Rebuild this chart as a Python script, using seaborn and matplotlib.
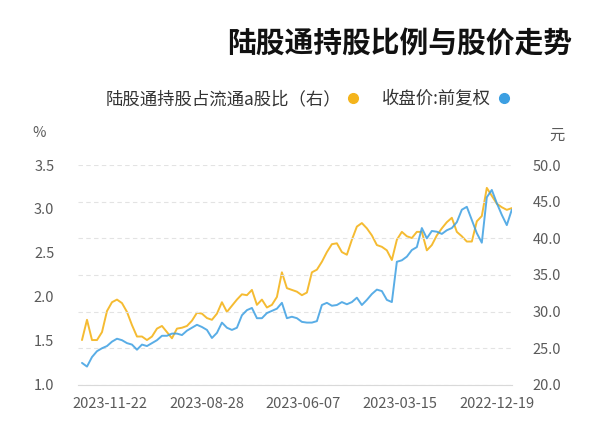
import numpy as np
import pandas as pd
import matplotlib
matplotlib.use("Agg")
import matplotlib.pyplot as plt
import seaborn as sns
from matplotlib.lines import Line2D

# 收盘价:前复权 (元), oldest -> newest, sampled roughly every 3 trading days
price = [43.9, 41.8, 43.2, 44.8, 46.6, 45.6, 39.4, 40.7, 42.5, 44.3,
         43.9, 42.2, 41.4, 41.1, 40.6, 40.9, 41.0, 40.0, 41.4, 38.8,
         38.4, 37.5, 37.0, 36.8, 31.3, 31.6, 32.8, 33.0, 32.4, 31.6,
         30.9, 31.9, 31.3, 31.0, 31.3, 30.9, 30.8, 31.2, 30.9, 28.7,
         28.5, 28.5, 28.6, 29.1, 29.3, 29.1, 31.2, 30.4, 30.1, 29.8,
         29.1, 29.1, 30.5, 30.2, 29.5, 27.8, 27.5, 27.8, 28.5, 27.1,
         26.4, 27.5, 27.9, 28.2, 27.8, 27.4, 26.8, 27.0, 27.0, 26.7,
         26.7, 26.1, 25.7, 25.3, 25.5, 24.8, 25.5, 25.7, 26.1, 26.3,
         25.9, 25.3, 25.0, 24.6, 23.8, 22.5, 23.0]

# 陆股通持股占流通a股比 (%)
share_pct = [3.01, 2.99, 3.02, 3.06, 3.15, 3.24, 2.92, 2.86, 2.63, 2.63,
             2.69, 2.74, 2.90, 2.85, 2.78, 2.70, 2.59, 2.53, 2.74, 2.74,
             2.67, 2.69, 2.74, 2.65, 2.42, 2.53, 2.57, 2.59, 2.70, 2.78,
             2.84, 2.80, 2.65, 2.48, 2.51, 2.61, 2.60, 2.51, 2.40, 2.31,
             2.28, 2.05, 2.02, 2.06, 2.08, 2.10, 2.28, 2.00, 1.91, 1.88,
             1.97, 1.91, 2.08, 2.02, 2.03, 1.97, 1.90, 1.83, 1.94, 1.81,
             1.74, 1.76, 1.81, 1.82, 1.73, 1.67, 1.65, 1.64, 1.53, 1.60,
             1.67, 1.64, 1.55, 1.51, 1.55, 1.55, 1.68, 1.83, 1.93, 1.97,
             1.94, 1.84, 1.60, 1.51, 1.51, 1.74, 1.51]

tick_labels = ["2022-12-19", "2023-03-15", "2023-06-07", "2023-08-28", "2023-11-22"]
tick_pos = [3, 22.4, 41.8, 61, 80.4]

df = pd.DataFrame({"idx": np.arange(len(price)), "price": price, "pct": share_pct})

sns.set_style("white")
plt.rcParams["font.family"] = ["Noto Sans CJK SC", "DejaVu Sans"]

blue = "#3c9fe2"
yellow = "#f4b41c"
grey = "#5a5a5a"

fig = plt.figure(figsize=(6, 4.46), dpi=100)
ax = fig.add_axes([0.13, 0.137, 0.723, 0.493])
ax2 = ax.twinx()

sns.lineplot(data=df, x="idx", y="pct", ax=ax, color=yellow, lw=1.4, alpha=0.9)
sns.lineplot(data=df, x="idx", y="price", ax=ax2, color=blue, lw=1.4, alpha=0.85)

ax.set_xlim(len(price) - 0.2, 0)
ax.set_ylim(1.0, 3.5)
ax2.set_ylim(20, 50)
ax.set_yticks(np.arange(1.0, 3.51, 0.5))
ax2.set_yticks(np.arange(20, 51, 5))
ax.set_yticklabels([f"{v:.1f}" for v in np.arange(1.0, 3.51, 0.5)])
ax2.set_yticklabels([f"{v:.1f}" for v in np.arange(20, 51, 5)])
ax2.grid(axis="y", ls=(0, (4, 3)), color="#e3e3e3", lw=0.8)
ax.grid(False)

ax.set_xticks(tick_pos)
ax.set_xticklabels(tick_labels)
for a in (ax, ax2):
    a.set_xlabel("")
    a.set_ylabel("")
    for s in a.spines.values():
        s.set_visible(False)
ax.spines["bottom"].set_visible(True)
ax.spines["bottom"].set_color("#d9d9d9")

ax.tick_params(axis="x", length=0, pad=9, labelsize=10.5, labelcolor=grey)
ax.tick_params(axis="y", length=0, pad=17, labelsize=10.5, labelcolor=grey)
ax2.tick_params(axis="y", length=0, pad=15, labelsize=10.5, labelcolor=grey)

fig.text(0.953, 0.904, "陆股通持股比例与股价走势", ha="right", va="center",
         fontsize=20.7, fontweight="bold", color="#111111")
fig.text(0.928, 0.697, "元", ha="center", va="center", fontsize=11, color=grey)
fig.text(0.065, 0.702, "%", ha="center", va="center", fontsize=10.5, color=grey)

handles = [Line2D([], [], ls="", marker="o", color=yellow, ms=7),
           Line2D([], [], ls="", marker="o", color=blue, ms=7)]
labels = ["陆股通持股占流通a股比（右）", "收盘价:前复权"]
fig.legend(handles, labels, loc="center right", bbox_to_anchor=(0.877, 0.778),
           ncol=2, frameon=False, markerfirst=False, fontsize=12.5,
           handlelength=0.8, handletextpad=0.3, columnspacing=1.3,
           labelcolor="#333333")

fig.savefig("out.png", dpi=100)
